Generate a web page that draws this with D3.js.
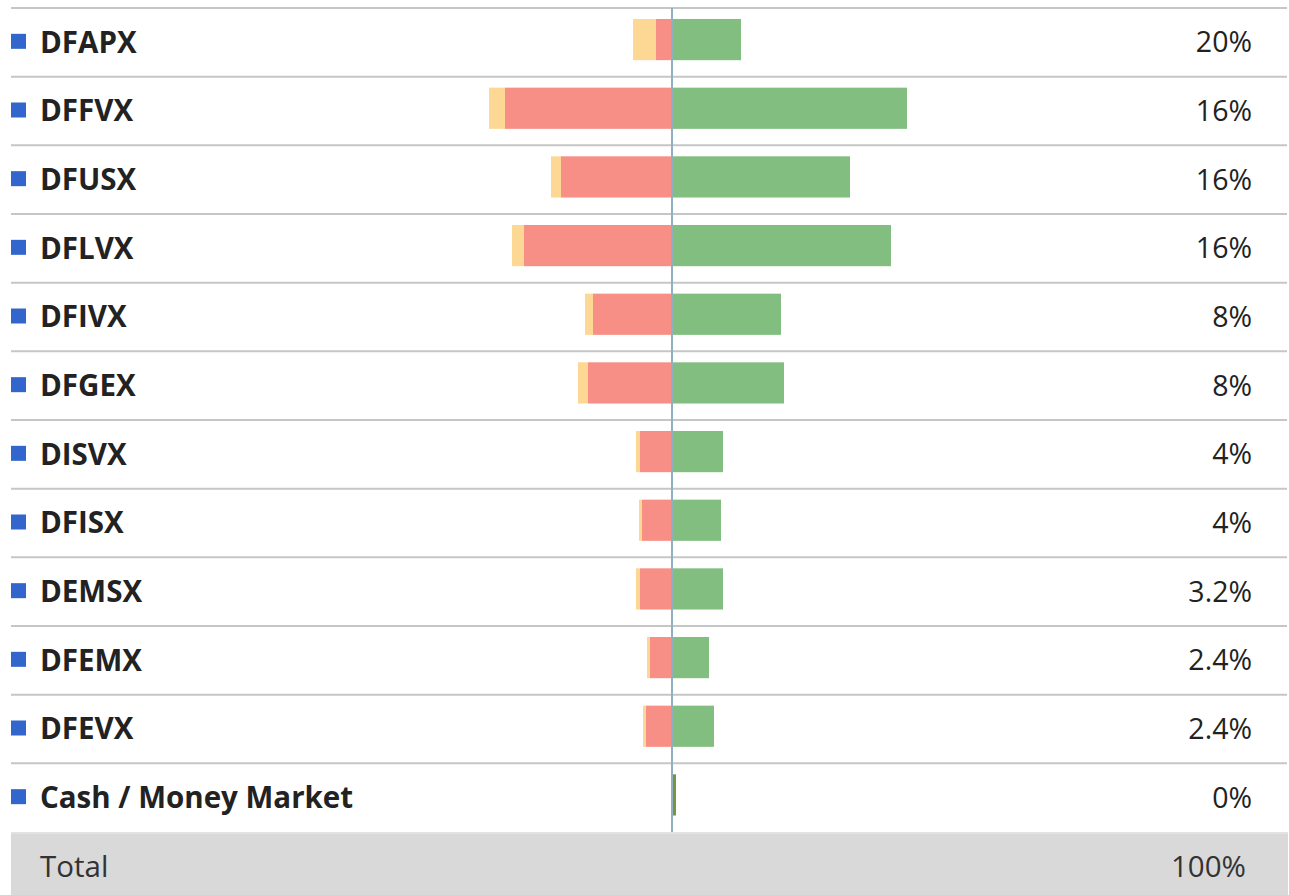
<!DOCTYPE html>
<html>
<head>
<meta charset="utf-8">
<script src="https://cdn.jsdelivr.net/npm/d3@7"></script>
<style>
  body { margin: 0; background: #fff; }
  svg { display: block; font-family: "Open Sans", sans-serif; }
</style>
</head>
<body>
<svg id="chart"></svg>
<script>
// fund rows, top to bottom
const funds = ["DFAPX", "DFFVX", "DFUSX", "DFLVX", "DFIVX", "DFGEX", "DISVX", "DFISX", "DEMSX", "DFEMX", "DFEVX", "Cash / Money Market"];
const weights = ["20%", "16%", "16%", "16%", "8%", "8%", "4%", "4%", "3.2%", "2.4%", "2.4%", "0%"];
// diverging bar parts (arbitrary units)
const gains = [6.9, 23.5, 17.8, 21.9, 10.9, 11.2, 5.1, 4.9, 5.1, 3.7, 4.2, 0.4];
const losses = [-1.6, -16.7, -11.1, -14.8, -7.9, -8.4, -3.2, -3.0, -3.2, -2.2, -2.6, 0];
const costs = [-2.3, -1.6, -1.0, -1.2, -0.8, -1.0, -0.4, -0.3, -0.4, -0.3, -0.3, 0];
const totalLabel = "Total";
const totalValue = "100%";

const width = 1289, height = 895;
const colors = {gain: "#81be80", loss: "#f78f86", cost: "#fcd894", cashGain: "#7a9446"};

const svg = d3.select("#chart").attr("width", width).attr("height", height);

const y = d3.scaleBand().domain(funds).range([8, 832]);
const x = d3.scaleLinear().domain([-30, 30]).range([372, 972]);
const step = y.step();

const rows = funds.map((f, i) => ({
    name: f, weight: weights[i], gain: gains[i], loss: losses[i], cost: costs[i]
}));

// total row background
svg.append("rect")
    .attr("x", 11).attr("y", 832)
    .attr("width", width - 12).attr("height", step)
    .attr("fill", "#d9d9d9");
svg.append("line")
    .attr("x1", 11).attr("x2", width - 1)
    .attr("y1", 833).attr("y2", 833)
    .attr("stroke", "#e2e2e2").attr("stroke-width", 2);

// row separators
svg.append("g").selectAll("line")
    .data(funds)
    .join("line")
    .attr("x1", 11).attr("x2", width - 2)
    .attr("y1", d => y(d)).attr("y2", d => y(d))
    .attr("stroke", "#c6c6c6").attr("stroke-width", 2);

const bars = svg.append("g");
const barY = d => y(d.name) + step * 0.16;
const barH = step * 0.6;

// yellow part sits beyond the red one
bars.selectAll("rect.cost")
    .data(rows)
    .join("rect")
    .attr("class", "cost")
    .attr("x", d => x(d.loss + d.cost))
    .attr("y", barY)
    .attr("width", d => x(d.loss) - x(d.loss + d.cost))
    .attr("height", barH)
    .attr("fill", colors.cost);

bars.selectAll("rect.loss")
    .data(rows)
    .join("rect")
    .attr("class", "loss")
    .attr("x", d => x(d.loss))
    .attr("y", barY)
    .attr("width", d => x(0) - x(d.loss))
    .attr("height", barH)
    .attr("fill", colors.loss);

bars.selectAll("rect.gain")
    .data(rows)
    .join("rect")
    .attr("class", "gain")
    .attr("x", x(0))
    .attr("y", barY)
    .attr("width", d => x(d.gain) - x(0))
    .attr("height", barH)
    .attr("fill", d => d.loss === 0 ? colors.cashGain : colors.gain);

// zero axis
svg.append("line")
    .attr("x1", x(0)).attr("x2", x(0))
    .attr("y1", 8).attr("y2", 832)
    .attr("stroke", "#8fb0bf").attr("stroke-width", 2);

// labels
const labels = svg.append("g");
labels.selectAll("rect")
    .data(rows)
    .join("rect")
    .attr("x", 11)
    .attr("y", d => y(d.name) + step / 2 - 8.5)
    .attr("width", 15).attr("height", 15)
    .attr("fill", "#3366cc");

labels.selectAll("text.name")
    .data(rows)
    .join("text")
    .attr("class", "name")
    .attr("x", 40)
    .attr("y", d => y(d.name) + step / 2)
    .attr("dy", "0.35em")
    .attr("font-size", 29.5)
    .attr("font-weight", "bold")
    .attr("fill", "#222")
    .text(d => d.name);

labels.selectAll("text.weight")
    .data(rows)
    .join("text")
    .attr("class", "weight")
    .attr("x", 1252)
    .attr("y", d => y(d.name) + step / 2)
    .attr("dy", "0.35em")
    .attr("text-anchor", "end")
    .attr("font-size", 28.5)
    .attr("fill", "#222")
    .text(d => d.weight);

svg.append("text")
    .attr("x", 40).attr("y", 832 + step / 2)
    .attr("dy", "0.35em")
    .attr("font-size", 29.5)
    .attr("fill", "#333")
    .text(totalLabel);

svg.append("text")
    .attr("x", 1246).attr("y", 832 + step / 2)
    .attr("dy", "0.35em")
    .attr("text-anchor", "end")
    .attr("font-size", 29.5)
    .attr("fill", "#333")
    .text(totalValue);
</script>
</body>
</html>
